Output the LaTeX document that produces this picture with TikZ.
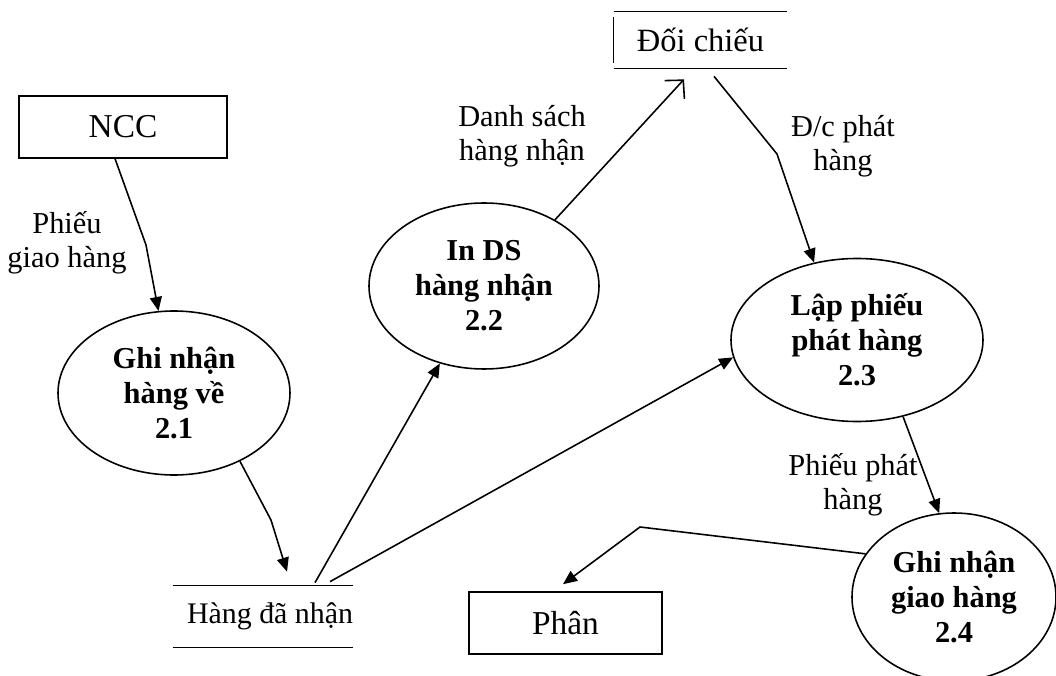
\documentclass[tikz,border=0pt]{standalone}
\usepackage{fontspec}
\setmainfont{Liberation Serif}
\usepackage{tikz}
\usetikzlibrary{positioning, arrows.meta, shapes.geometric, calc}

\begin{document}
\begin{tikzpicture}[
    ext/.style={draw, rectangle, line width=0.9pt, inner sep=0pt, font=\fontsize{19}{21}\selectfont},
    proc/.style={draw, ellipse, line width=0.9pt, inner sep=0pt, align=center, font=\fontsize{17.3}{20}\selectfont\bfseries},
    store/.style={rectangle, inner sep=0pt, font=\fontsize{18.5}{21}\selectfont},
    flow/.style={line width=0.9pt, -{Triangle[length=2.8mm, width=2.4mm]}},
    lbl/.style={align=center, font=\fontsize{17.3}{19.5}\selectfont},
]
\useasboundingbox (0,0) rectangle (21.12,13.5);

% External entities
\node[ext, minimum width=4.16cm, minimum height=1.24cm] (ncc) at (2.46, 10.96) {NCC};
\node[ext, minimum width=3.86cm, minimum height=1.24cm] (phan) at (11.31, 1.04) {Phân};

% Data stores
\node[store, minimum width=3.6cm, minimum height=1.22cm] (hdn) at (5.26, 1.17) {\makebox[3.6cm][r]{\fontsize{17}{21}\selectfont Hàng đã nhận}};
\node[store, minimum width=3.46cm, minimum height=1.12cm] (dc) at (14.01, 12.70) {Đối chiếu};
\draw[line width=0.9pt] (hdn.north west) -- (hdn.north east);
\draw[line width=0.9pt] (hdn.south west) -- (hdn.south east);
\draw[line width=0.9pt] (dc.north west) -- (dc.north east);
\draw[line width=0.9pt] (dc.south west) -- (dc.south east);
\draw[line width=0.9pt, shorten <=0.1cm, shorten >=0.1cm] (dc.north west) -- (dc.south west);

% Processes
\node[proc, minimum width=4.64cm, minimum height=3.28cm] (p21) at (3.48, 5.64) {Ghi nhận\\hàng về\\2.1};
\node[proc, minimum width=4.6cm, minimum height=3.32cm] (p22) at (9.68, 7.78) {In DS\\hàng nhận\\2.2};
\node[proc, minimum width=5.04cm, minimum height=3.26cm] (p23) at (17.14, 6.70) {Lập phiếu\\phát hàng\\2.3};
\node[proc, minimum width=4.08cm, minimum height=3.36cm] (p24) at (19.08, 1.56) {Ghi nhận\\giao hàng\\2.4};

% Flows
\draw[flow] (ncc.256) -- (2.92, 8.60) -- (p21);
\draw[flow] (p21.-46) -- (5.42, 3.10) -- ($(hdn.north)+(0.48,0.28)$);
\draw[flow] ($(hdn.north)+(1.04,0.06)$) -- (p22);
\draw[flow] ($(hdn.north)+(1.34,0.08)$) -- (p23.188);
\draw[line width=0.9pt, -{Straight Barb[length=2.6mm, width=5.4mm]}] (p22.43) -- ($(dc.south)+(-0.33,-0.22)$);
\draw[flow] ($(dc.south)+(0.27,-0.16)$) -- (15.54, 10.42) -- (p23.119);
\draw[flow] (p23.-59) -- (p24.100);
\draw[flow] (p24.154) -- (12.80, 2.96) -- ($(phan.north)+(-0.05,0.14)$);

% Labels
\node[lbl] (l1) at (1.34, 8.64) {Phiếu\\giao hàng};
\node[lbl] (l2) at (10.44, 10.78) {Danh sách\\hàng nhận};
\node[lbl] (l3) at (16.86, 10.58) {Đ/c phát\\hàng};
\node[lbl] (l4) at (17.06, 3.80) {Phiếu phát\\hàng};
\end{tikzpicture}
\end{document}
